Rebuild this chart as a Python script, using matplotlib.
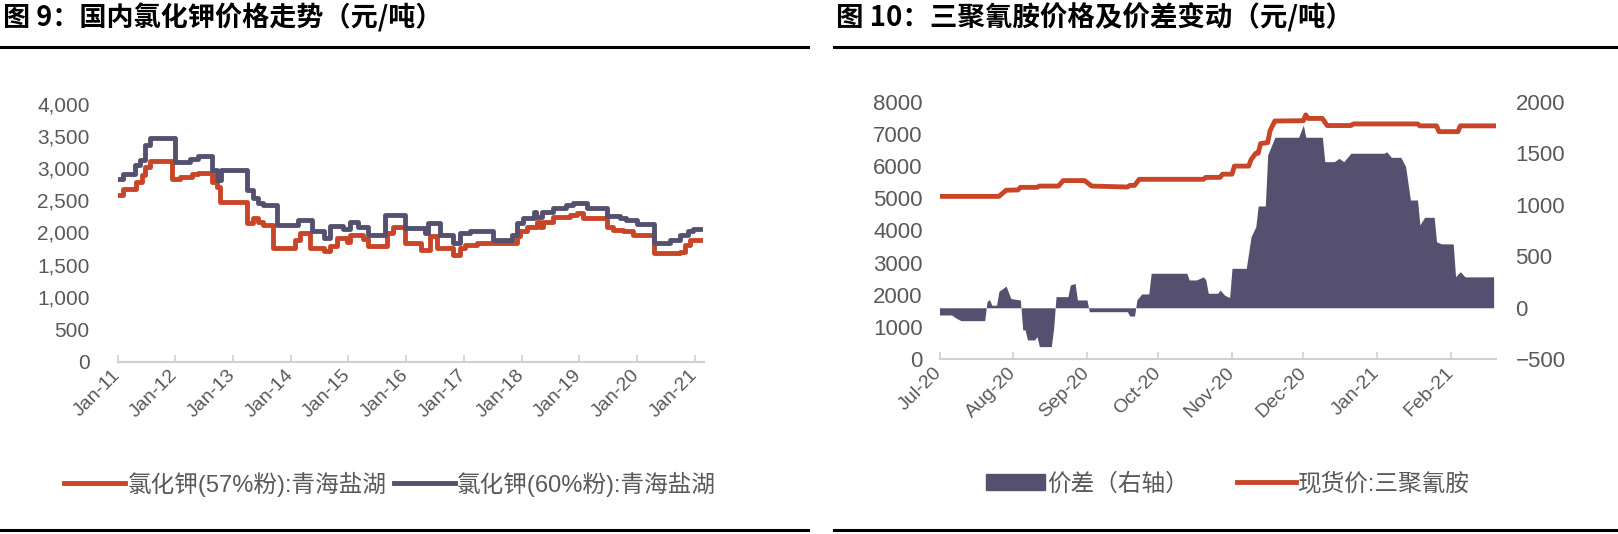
import matplotlib
matplotlib.use('Agg')
import matplotlib.pyplot as plt
import matplotlib.dates as mdates
import pandas as pd
from matplotlib.lines import Line2D
from matplotlib.patches import Patch

plt.rcParams['font.family'] = ['Liberation Sans', 'Noto Sans CJK SC']

ORANGE = '#C84527'
PURPLE = '#55506F'
GREY_TXT = '#595959'
GREY_AX = '#D0D0D0'

# ---- chart 9: potassium chloride prices (step changes) ----
k57_dates = ['2011-01-01', '2011-02-06', '2011-05-01', '2011-06-03', '2011-06-25', '2011-07-24',
             '2011-12-10', '2012-01-30', '2012-04-16', '2012-05-26', '2012-08-18', '2012-09-20',
             '2012-10-12', '2013-03-29', '2013-05-08', '2013-06-10', '2013-07-13', '2013-09-13',
             '2014-01-30', '2014-02-28', '2014-05-05', '2014-07-28', '2014-09-06', '2014-10-20',
             '2014-12-21', '2015-01-12', '2015-04-06', '2015-05-08', '2015-09-02', '2015-10-12',
             '2015-12-24', '2016-04-08', '2016-06-02', '2016-07-12', '2016-10-26', '2016-12-09',
             '2017-01-08', '2017-03-26', '2017-12-02', '2017-12-24', '2018-02-03', '2018-04-09',
             '2018-05-01', '2018-05-19', '2018-07-20', '2018-11-03', '2018-12-17', '2019-01-26',
             '2019-06-25', '2019-08-04', '2019-10-08', '2019-12-09', '2020-04-16', '2020-10-01',
             '2020-11-03', '2020-12-02', '2021-02-05']
k57_vals = [2580, 2670, 2790, 2890, 3020, 3110,
            2830, 2860, 2900, 2930, 2790, 2710,
            2480, 2145, 2220, 2170, 2120, 1760,
            1890, 1990, 1760, 1720, 1790, 1910,
            1860, 1965, 1900, 1785, 1990, 2085,
            1836, 1733, 1938, 1760, 1655, 1760,
            1810, 1836, 1938, 2016, 2093, 2170,
            2090, 2170, 2248, 2265, 2300, 2222,
            2093, 2042, 2016, 1965, 1681, 1700,
            1810, 1880, 1880]

k60_dates = ['2011-01-01', '2011-02-06', '2011-04-20', '2011-05-22', '2011-06-25', '2011-07-24',
             '2012-01-01', '2012-04-06', '2012-05-26', '2012-08-18', '2012-09-20', '2012-10-20',
             '2013-03-29', '2013-05-08', '2013-06-10', '2013-07-13', '2013-10-05', '2014-02-15',
             '2014-05-16', '2014-07-28', '2014-09-06', '2014-11-28', '2015-01-12', '2015-03-05',
             '2015-05-08', '2015-08-22', '2015-12-24', '2016-04-30', '2016-05-22', '2016-08-03',
             '2016-10-26', '2016-12-09', '2017-02-10', '2017-07-06', '2017-10-30', '2017-12-02',
             '2018-01-12', '2018-03-18', '2018-04-01', '2018-05-08', '2018-07-20', '2018-10-12',
             '2018-11-25', '2019-02-17', '2019-06-25', '2019-09-16', '2019-10-27', '2020-01-01',
             '2020-04-16', '2020-07-27', '2020-10-01', '2020-11-22', '2020-12-24', '2021-02-05']
k60_vals = [2830, 2900, 3047, 3125, 3357, 3470,
            3100, 3140, 3180, 2970, 2820, 2970,
            2660, 2540, 2460, 2430, 2120, 2200,
            2016, 1920, 2100, 2060, 2170, 2080,
            1965, 2270, 2068, 2000, 2145, 1965,
            1836, 1990, 2016, 1877, 1965, 2145,
            2222, 2325, 2248, 2325, 2377, 2429,
            2455, 2377, 2259, 2222, 2197, 2135,
            1836, 1877, 1965, 2030, 2057, 2057]

# ---- chart 10: melamine price and spread ----
mel_dates = ['2020-07-01', '2020-07-26', '2020-07-29', '2020-08-03', '2020-08-04', '2020-08-11',
             '2020-08-12', '2020-08-20', '2020-08-22', '2020-08-31', '2020-09-03', '2020-09-18',
             '2020-09-19', '2020-09-21', '2020-09-23', '2020-10-20', '2020-10-21', '2020-10-27',
             '2020-10-28', '2020-11-01', '2020-11-02', '2020-11-08', '2020-11-09', '2020-11-11',
             '2020-11-12', '2020-11-13', '2020-11-16', '2020-11-17', '2020-11-19', '2020-12-01',
             '2020-12-02', '2020-12-03', '2020-12-09', '2020-12-11', '2020-12-21', '2020-12-22',
             '2021-01-18', '2021-01-19', '2021-01-26', '2021-01-27', '2021-02-04', '2021-02-05',
             '2021-02-19']
mel_price = [5060, 5060, 5250, 5260, 5340, 5340,
             5380, 5380, 5550, 5550, 5380, 5350,
             5400, 5400, 5590, 5590, 5650, 5650,
             5750, 5750, 6000, 6000, 6200, 6400,
             6400, 6700, 6730, 7100, 7400, 7410,
             7590, 7480, 7480, 7260, 7260, 7310,
             7310, 7250, 7250, 7070, 7070, 7250,
             7250]

spread_dates = ['2020-07-01', '2020-07-06', '2020-07-08', '2020-07-10', '2020-07-20', '2020-07-21',
                '2020-07-22', '2020-07-23', '2020-07-25', '2020-07-26', '2020-07-29', '2020-07-31',
                '2020-08-04', '2020-08-05', '2020-08-06', '2020-08-07', '2020-08-10', '2020-08-11',
                '2020-08-12', '2020-08-17', '2020-08-18', '2020-08-19', '2020-08-24', '2020-08-25',
                '2020-08-27', '2020-08-28', '2020-09-01', '2020-09-02', '2020-09-18', '2020-09-19',
                '2020-09-21', '2020-09-22', '2020-09-24', '2020-09-27', '2020-09-28', '2020-10-13',
                '2020-10-14', '2020-10-17', '2020-10-20', '2020-10-21', '2020-10-22', '2020-10-26',
                '2020-10-27', '2020-10-29', '2020-10-31', '2020-11-01', '2020-11-07', '2020-11-09',
                '2020-11-11', '2020-11-12', '2020-11-15', '2020-11-16', '2020-11-19', '2020-11-29',
                '2020-12-01', '2020-12-02', '2020-12-09', '2020-12-10', '2020-12-14', '2020-12-16',
                '2020-12-18', '2020-12-21', '2021-01-04', '2021-01-05', '2021-01-07', '2021-01-11',
                '2021-01-13', '2021-01-15', '2021-01-18', '2021-01-19', '2021-01-21', '2021-01-25',
                '2021-01-26', '2021-01-28', '2021-02-02', '2021-02-03', '2021-02-05', '2021-02-07',
                '2021-02-19']
spread = [-70, -70, -100, -125, -125, 60,
          80, 25, 25, 160, 210, 90,
          75, -215, -215, -312, -312, -280,
          -377, -377, -200, 108, 108, 221,
          237, 76, 76, -38, -38, -80,
          -80, 76, 134, 134, 335, 335,
          270, 270, 300, 270, 141, 141,
          172, 120, 100, 383, 383, 690,
          787, 988, 988, 1483, 1655, 1655,
          1774, 1655, 1655, 1418, 1418, 1450,
          1418, 1500, 1500, 1515, 1460, 1460,
          1370, 1046, 1046, 805, 878, 878,
          641, 620, 620, 302, 350, 300,
          300]

k57_label = '氯化钾(57%粉):青海盐湖'
k60_label = '氯化钾(60%粉):青海盐湖'
spread_label = '价差（右轴）'
mel_label = '现货价:三聚氰胺'


def prettify(ax, ysize):
    for s in ['top', 'right', 'left']:
        ax.spines[s].set_visible(False)
    ax.spines['bottom'].set_color(GREY_AX)
    ax.spines['bottom'].set_linewidth(1.5)
    ax.tick_params(axis='x', direction='in', length=5, width=1.2, color=GREY_AX,
                   labelcolor=GREY_TXT, labelsize=14, pad=8)
    ax.tick_params(axis='y', length=0, labelcolor=GREY_TXT, labelsize=ysize)
    for lab in ax.get_xticklabels():
        lab.set_rotation(45)
        lab.set_ha('right')
        lab.set_va('center')
        lab.set_rotation_mode('anchor')


fig = plt.figure(figsize=(16.18, 5.34), dpi=100, facecolor='white')

# header / footer rules and titles
for x0, x1 in [(0.0, 0.4995), (0.5155, 1.0)]:
    fig.add_artist(Line2D([x0, x1], [1 - 46.5 / 534] * 2, color='black', lw=2.2))
    fig.add_artist(Line2D([x0, x1], [1 - 530 / 534] * 2, color='black', lw=2.2))
fig.text(0.002, 1 - 18 / 534, '图 9：国内氯化钾价格走势（元/吨）', fontsize=19.5, fontweight='bold',
         family=['Noto Sans CJK SC'], va='center', ha='left')
fig.text(0.5165, 1 - 18 / 534, '图 10：三聚氰胺价格及价差变动（元/吨）', fontsize=19.8, fontweight='bold',
         family=['Noto Sans CJK SC'], va='center', ha='left')

# ---- left chart ----
ax = fig.add_axes([117.5 / 1618, 1 - 361.5 / 534, 586.5 / 1618, 258 / 534])
ax.plot(pd.to_datetime(k57_dates), k57_vals, drawstyle='steps-post', color=ORANGE, lw=3.5, label=k57_label)
ax.plot(pd.to_datetime(k60_dates), k60_vals, drawstyle='steps-post', color=PURPLE, lw=3.5, label=k60_label)
ax.set_ylim(0, 4000)
ax.set_yticks(range(0, 4001, 500))
ax.yaxis.set_major_formatter(matplotlib.ticker.StrMethodFormatter('{x:,.0f}'))
ax.set_xlim(pd.Timestamp('2011-01-01'), pd.Timestamp('2021-03-01'))
ax.xaxis.set_major_locator(mdates.YearLocator())
ax.xaxis.set_major_formatter(mdates.DateFormatter('%b-%y'))
ax.tick_params(axis='y', pad=20)
prettify(ax, 15)
ax.legend(loc='center', bbox_to_anchor=(390 / 1618, 1 - 484 / 534), bbox_transform=fig.transFigure,
          ncol=2, frameon=False, fontsize=17, handlelength=2.6, handletextpad=0.1,
          columnspacing=0.3, labelcolor=GREY_TXT)

# ---- right chart ----
axr = fig.add_axes([939.5 / 1618, 1 - 359.3 / 534, 556.5 / 1618, 257.6 / 534])
ax2 = axr.twinx()
ax2.fill_between(pd.to_datetime(spread_dates), 0, spread, color=PURPLE, lw=0, label=spread_label)
axr.plot(pd.to_datetime(mel_dates), mel_price, color=ORANGE, lw=3.5, label=mel_label)
axr.set_zorder(ax2.get_zorder() + 1)
axr.patch.set_visible(False)
axr.set_ylim(0, 8000)
axr.set_yticks(range(0, 8001, 1000))
ax2.set_ylim(-500, 2000)
ax2.set_yticks(range(-500, 2001, 500))
axr.set_xlim(pd.Timestamp('2020-07-01'), pd.Timestamp('2021-02-20'))
axr.xaxis.set_major_locator(mdates.MonthLocator())
axr.xaxis.set_major_formatter(mdates.DateFormatter('%b-%y'))
prettify(axr, 16)
axr.tick_params(axis='y', pad=12)
for s in ['top', 'right', 'left', 'bottom']:
    ax2.spines[s].set_visible(False)
ax2.tick_params(axis='y', length=0, labelcolor=GREY_TXT, labelsize=16, pad=14)

handles = [Patch(color=PURPLE), Line2D([], [], color=ORANGE, lw=3.5)]
axr.legend(handles, [spread_label, mel_label], loc='center',
           bbox_to_anchor=(1228 / 1618, 1 - 484 / 534), bbox_transform=fig.transFigure,
           ncol=2, frameon=False, fontsize=17, handlelength=2.5, handletextpad=0.1,
           columnspacing=2.0, labelcolor=GREY_TXT)

fig.savefig('out.png', dpi=100, facecolor='white')
